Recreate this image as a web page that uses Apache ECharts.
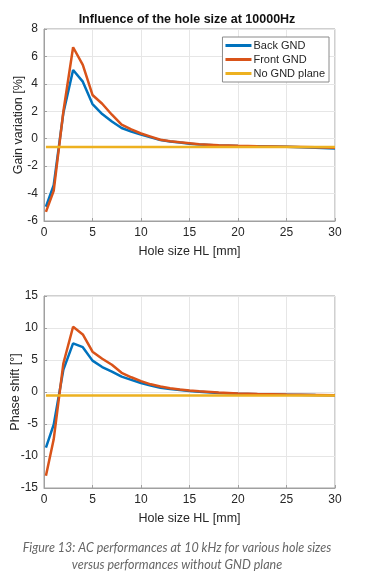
<!DOCTYPE html>
<html><head><meta charset="utf-8">
<script src="https://cdn.jsdelivr.net/npm/echarts@6/dist/echarts.min.js"></script>
<style>html,body{margin:0;padding:0;background:#fff}#c{width:367px;height:581px}</style>
</head><body><div id="c"></div>
<script>
const holeSize = [0.2, 1, 2, 3, 4, 5, 6, 7, 8, 9, 10, 11, 12, 13, 14, 15, 16, 18, 20, 22, 25, 28, 30];
const gainBack  = [-4.96, -3.38, 1.9, 5.01, 4.16, 2.53, 1.8, 1.25, 0.78, 0.52, 0.3, 0.1, -0.1, -0.2, -0.28, -0.36, -0.42, -0.5, -0.53, -0.55, -0.58, -0.65, -0.72];
const gainFront = [-5.33, -3.8, 2.0, 6.67, 5.38, 3.19, 2.55, 1.75, 1.02, 0.68, 0.38, 0.15, -0.08, -0.18, -0.26, -0.33, -0.4, -0.48, -0.52, -0.55, -0.58, -0.62, -0.65];
const gainNoGnd = [-0.6, -0.6, -0.6, -0.6, -0.6, -0.6, -0.6, -0.6, -0.6, -0.6, -0.6, -0.6, -0.6, -0.6, -0.6, -0.6, -0.6, -0.6, -0.6, -0.6, -0.6, -0.6, -0.6];
const phaseBack  = [-8.7, -5.1, 3.5, 7.6, 7.0, 4.9, 3.9, 3.2, 2.4, 1.9, 1.4, 1.0, 0.65, 0.45, 0.3, 0.15, 0.05, -0.15, -0.27, -0.35, -0.42, -0.48, -0.5];
const phaseFront = [-13.1, -7.4, 4.5, 10.2, 9.0, 6.3, 5.2, 4.25, 3.0, 2.3, 1.7, 1.2, 0.85, 0.6, 0.4, 0.25, 0.12, -0.08, -0.22, -0.32, -0.4, -0.45, -0.5];
const phaseNoGnd = [-0.55, -0.55, -0.55, -0.55, -0.55, -0.55, -0.55, -0.55, -0.55, -0.55, -0.55, -0.55, -0.55, -0.55, -0.55, -0.55, -0.55, -0.55, -0.55, -0.55, -0.55, -0.55, -0.55];
const seriesNames = ['Back GND', 'Front GND', 'No GND plane'];
const colors = ['#0072BD', '#D95319', '#EDB120'];

const pairs = ys => holeSize.map((x, i) => [x, ys[i]]);
const txt = '#262626';
const font = 'Liberation Sans, Arial, sans-serif';

function axisCommon() {
  return {
    nameMoveOverlap: false,
    nameTextStyle: {color: txt, fontSize: 12.5, fontFamily: font},
    axisLine: {show: true, onZero: false, lineStyle: {color: '#a0a0a0'}},
    axisTick: {show: true, inside: true, length: 3, lineStyle: {color: '#a0a0a0'}},
    axisLabel: {color: txt, fontSize: 12, fontFamily: font, margin: 6},
    splitLine: {show: true, lineStyle: {color: '#e6e6e6', width: 1}}
  };
}
function xAx(gi) {
  return Object.assign(axisCommon(), {
    type: 'value', gridIndex: gi, min: 0, max: 30, interval: 5,
    name: 'Hole size HL [mm]', nameLocation: 'middle', nameGap: 24
  });
}
function yAx(gi, min, max, iv, name, gap) {
  return Object.assign(axisCommon(), {
    type: 'value', gridIndex: gi, min: min, max: max, interval: iv,
    name: name, nameLocation: 'middle', nameGap: gap
  });
}
function ser(name, data, gi, ci) {
  return {
    name: name, type: 'line', xAxisIndex: gi, yAxisIndex: gi, data: pairs(data),
    showSymbol: false, symbol: 'none', smooth: false, animation: false,
    lineStyle: {color: colors[ci], width: 2.5}, itemStyle: {color: colors[ci]}
  };
}

const chart = echarts.init(document.getElementById('c'), null, {renderer: 'canvas'});
chart.setOption({
  backgroundColor: '#fff',
  animation: false,
  title: [
    {text: 'Influence of the hole size at 10000Hz', left: 182, top: 8, textAlign: 'center',
     textStyle: {fontSize: 12.5, fontWeight: 'bold', color: '#111', fontFamily: font}},
    {text: 'Figure 13: AC performances at 10 kHz for various hole sizes\nversus performances without GND plane',
     left: 172, top: 534, textAlign: 'center',
     textStyle: {fontSize: 12.5, fontStyle: 'italic', fontWeight: 'normal', color: '#666', fontFamily: 'Lato, sans-serif', lineHeight: 17}}
  ],
  legend: {
    orient: 'vertical', right: 38, top: 37, data: seriesNames,
    backgroundColor: '#fff', borderColor: '#8a8a8a', borderWidth: 1, padding: [3, 4, 3, 3],
    itemGap: 3, itemWidth: 26, itemHeight: 3, icon: 'rect',
    textStyle: {fontSize: 11, color: txt, fontFamily: font, padding: [0, 0, 0, -3]}
  },
  grid: [
    {left: 44, top: 29, width: 291, height: 192, containLabel: false, outerBoundsMode: 'none', show: true, borderColor: '#a0a0a0', borderWidth: 1, backgroundColor: 'transparent'},
    {left: 44, top: 296, width: 291, height: 192, containLabel: false, outerBoundsMode: 'none', show: true, borderColor: '#a0a0a0', borderWidth: 1, backgroundColor: 'transparent'}
  ],
  xAxis: [xAx(0), xAx(1)],
  yAxis: [yAx(0, -6, 8, 2, 'Gain variation [%]', 19), yAx(1, -15, 15, 5, 'Phase shift [°]', 22)],
  series: [
    ser(seriesNames[0], gainBack, 0, 0),
    ser(seriesNames[1], gainFront, 0, 1),
    ser(seriesNames[2], gainNoGnd, 0, 2),
    ser(seriesNames[0], phaseBack, 1, 0),
    ser(seriesNames[1], phaseFront, 1, 1),
    ser(seriesNames[2], phaseNoGnd, 1, 2)
  ]
});
</script></body></html>
